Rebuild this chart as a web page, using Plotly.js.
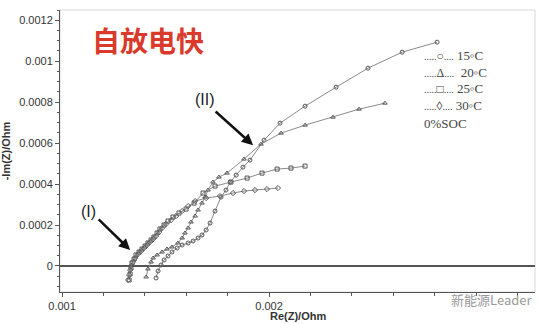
<!DOCTYPE html>
<html><head><meta charset="utf-8">
<script src="https://cdn.plot.ly/plotly-3.0.1.min.js"></script>
<style>html,body{margin:0;padding:0;background:#fff;}#chart{width:550px;height:324px;}</style>
</head><body><div id="chart"></div>
<script>
// 15°C (circles)
const x15 = [0.001454,0.001464,0.001478,0.001493,0.001512,0.001531,0.001556,0.001580,0.001609,0.001633,0.001657,0.001676,0.001696,0.001715,0.001739,0.001768,0.001792,0.001812,0.001841,0.001874,0.001908,0.001976,0.002053,0.002174,0.002324,0.002478,0.002643,0.002812];
const y15 = [-0.0000585,-0.0000244,0.0000049,0.0000293,0.0000488,0.0000683,0.0000878,0.0001024,0.0001122,0.000122,0.0001366,0.0001512,0.0001756,0.0002098,0.0002683,0.0003366,0.0003707,0.0004098,0.0004439,0.0004829,0.0005171,0.0006146,0.0006976,0.0007805,0.0008732,0.0009659,0.001044,0.001093];
// 20°C (triangles)
const x20 = [0.001406,0.001415,0.001430,0.001440,0.001459,0.001483,0.001507,0.001531,0.001560,0.001580,0.001594,0.001609,0.001623,0.001643,0.001657,0.001676,0.001691,0.001705,0.001729,0.001758,0.001797,0.001879,0.001961,0.002058,0.002174,0.002309,0.002435,0.002560];
const y20 = [-0.0000537,-0.0000146,0.0000195,0.000039,0.0000537,0.0000683,0.0000829,0.0000927,0.0001122,0.0001366,0.000161,0.0001854,0.0002146,0.0002439,0.0002732,0.0003073,0.0003366,0.0003707,0.0004098,0.0004341,0.0004537,0.000522,0.0005951,0.0006488,0.0006878,0.0007268,0.0007659,0.0007951];
// 25°C (squares)
const x25 = [0.001324,0.001329,0.001333,0.001338,0.001348,0.001357,0.001372,0.001386,0.001401,0.001415,0.001430,0.001444,0.001459,0.001473,0.001493,0.001512,0.001536,0.001565,0.001599,0.001638,0.001681,0.001739,0.001816,0.001894,0.001966,0.002039,0.002106,0.002174];
const y25 = [-0.0000683,-0.000039,-0.0000098,0.0000146,0.0000341,0.0000537,0.0000683,0.0000829,0.0000976,0.0001122,0.0001268,0.0001415,0.000161,0.0001805,0.0002,0.0002195,0.000239,0.0002585,0.000278,0.0003073,0.0003561,0.0003902,0.0004098,0.0004293,0.0004537,0.0004732,0.000478,0.0004878];
// 30°C (diamonds)
const x30 = [0.001319,0.001324,0.001329,0.001333,0.001343,0.001353,0.001367,0.001382,0.001396,0.001411,0.001425,0.001440,0.001454,0.001469,0.001483,0.001502,0.001527,0.001551,0.001580,0.001609,0.001643,0.001696,0.001763,0.001826,0.001879,0.001932,0.001990,0.002043];
const y30 = [-0.0000683,-0.0000439,-0.0000195,0,0.0000195,0.000039,0.0000585,0.0000732,0.0000878,0.0001024,0.0001171,0.0001317,0.0001463,0.0001659,0.0001854,0.0002049,0.0002244,0.0002439,0.0002683,0.0002927,0.0003171,0.0003317,0.0003415,0.0003561,0.0003659,0.0003707,0.0003756,0.0003805];

const yTicks = [0,0.0002,0.0004,0.0006,0.0008,0.001,0.0012];
const yTickText = ['0','0.0002','0.0004','0.0006','0.0008','0.001','0.0012'];
const xTicks = [0.001,0.002];
const xTickText = ['0.001','0.002'];
const legendSymbols = ['\u25cb','\u0394','\u25a1','\u25ca'];
const legendTemps = ['15\u25e6C','\u00a020\u25e6C','25\u25e6C','30\u25e6C'];
const socLabel = '0%SOC';

const lineStyle = {color:'#8a8a8a', width:1};
function tr(x,y,sym){
  return {x:x,y:y,mode:'lines+markers',type:'scatter',line:lineStyle,
    marker:{symbol:sym,size:4,color:'#555',line:{width:1,color:'#555'}},showlegend:false,hoverinfo:'skip'};
}
const data = [tr(x15,y15,'circle-open'),tr(x20,y20,'triangle-up-open'),tr(x25,y25,'square-open'),tr(x30,y30,'diamond-open')];

const ann = [
  {xref:'paper',yref:'paper',x:0.064,y:0.892,xanchor:'left',yanchor:'middle',text:'<b>自放电快</b>',showarrow:false,
   font:{family:'Noto Sans CJK SC',size:28,color:'#d93a2b'}},
  {xref:'paper',yref:'paper',x:0.059,y:0.287,xanchor:'center',yanchor:'middle',text:'(I)',showarrow:false,font:{family:'Arial',size:16,color:'#222'}},
  {xref:'paper',yref:'paper',x:0.305,y:0.684,xanchor:'center',yanchor:'middle',text:'(II)',showarrow:false,font:{family:'Arial',size:16,color:'#222'}},
  {x:0.001329,y:0.000078,ax:-33,ay:-32,text:'',showarrow:true,arrowhead:2,arrowsize:0.9,arrowwidth:2.5,arrowcolor:'#111',standoff:0},
  {x:0.001923,y:0.000590,ax:-39,ay:-35,text:'',showarrow:true,arrowhead:2,arrowsize:0.9,arrowwidth:2.5,arrowcolor:'#111',standoff:0},
  {xref:'paper',yref:'paper',x:0.5,y:-0.085,xanchor:'center',yanchor:'middle',text:'<b>Re(Z)/Ohm</b>',showarrow:false,font:{family:'Arial',size:11,color:'#333'}},
];
const legY = [0.840,0.777,0.720,0.663,0.599];
const dots5 = '<span style="font-size:10px">.....</span>';
const dots4 = '<span style="font-size:10px">....</span>';
legendSymbols.forEach((s,i)=>{
  ann.push({xref:'paper',yref:'paper',x:0.762,y:legY[i],xanchor:'left',yanchor:'middle',
    text:dots5+'<span style="font-size:12px">'+s+'</span>'+dots4+' '+legendTemps[i],showarrow:false,
    font:{family:'Liberation Serif',size:13,color:'#444'}});
});
ann.push({xref:'paper',yref:'paper',x:0.762,y:legY[4],xanchor:'left',yanchor:'middle',text:socLabel,showarrow:false,
    font:{family:'Liberation Serif',size:13,color:'#444'}});
ann.push({xref:'paper',yref:'paper',x:0.997,y:-0.028,xanchor:'right',yanchor:'middle',text:'新能源Leader',showarrow:false,
  font:{family:'Noto Sans CJK SC',size:13,color:'#9a9a9a'}});

const layout = {
  width:550,height:324,margin:{l:60,r:15,t:10,b:32},
  paper_bgcolor:'#fff',plot_bgcolor:'#fff',
  xaxis:{range:[0.00099,0.003285],tickvals:xTicks,ticktext:xTickText,ticks:'outside',ticklen:4,tickcolor:'#555',
    showgrid:false,zeroline:false,showline:true,linecolor:'#555',linewidth:1,
    minor:{dtick:0.0002,ticks:'outside',ticklen:3,tickcolor:'#555',showgrid:false},
    tickfont:{family:'Arial',size:11,color:'#333'}},
  yaxis:{range:[-0.000127,0.00125],tickvals:yTicks,ticktext:yTickText,ticks:'outside',ticklen:4,tickcolor:'#555',
    showgrid:false,zeroline:true,zerolinecolor:'#555',zerolinewidth:2,showline:true,linecolor:'#555',linewidth:1,
    minor:{dtick:0.00005,ticks:'outside',ticklen:2,tickcolor:'#555',showgrid:false},
    tickfont:{family:'Arial',size:11,color:'#333'},
    title:{text:'<b>-Im(Z)/Ohm</b>',font:{family:'Arial',size:11,color:'#333'},standoff:10}},
  shapes:[{type:'rect',xref:'paper',yref:'paper',x0:0,x1:1,y0:0,y1:1,line:{color:'#d8d8d8',width:1},layer:'below'}],
  annotations:ann
};
Plotly.newPlot('chart',data,layout,{displayModeBar:false,staticPlot:true});
</script></body></html>
